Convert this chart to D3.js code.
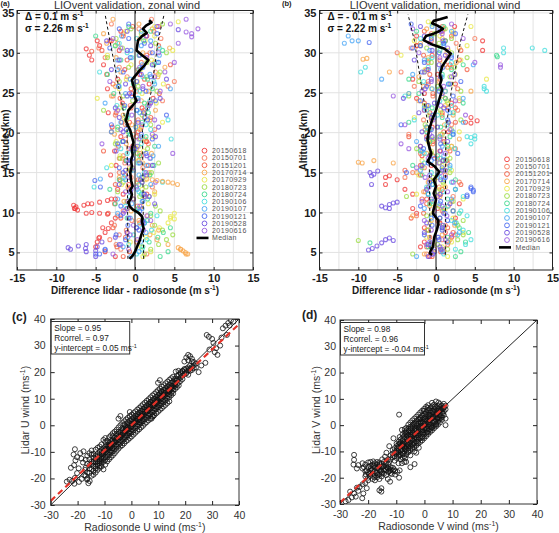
<!DOCTYPE html>
<html><head><meta charset="utf-8">
<script src="https://cdn.jsdelivr.net/npm/d3@7"></script>
<style>
html,body{margin:0;padding:0;background:#fff;}
svg{display:block;font-family:"Liberation Sans",Arial,Helvetica,sans-serif;}
</style></head><body>
<svg id="chart" width="559" height="533"></svg>
<script>
// ---------------- DATA ----------------
const dates = ["20150618","20150701","20151201","20170714","20170929","20180723","20180724","20190106","20190107","20190121","20190528","20190616"];
const dateColors = ["#f03a3a","#f7785a","#f25a3f","#f8a64a","#e8e84a","#9cdc45","#3fd98f","#45dede","#4aa6f5","#4a6af0","#6c4ee0","#9a5ce0"];

const levelsA = [4.5,5.1,5.7,6.3,6.9,7.5,8.1,8.7,9.3,9.9,10.5,11.1,11.7,12.3,12.9,13.5,14.1,14.7,15.3,15.9,16.5,17.1,17.7,18.3,18.9,19.5,20.1,20.7,21.3,21.9,22.5,23.1,23.7,24.3,24.9,25.5,26.1,26.7,27.3,27.9,28.5,29.1,29.7,30.3,30.9,31.5,32.1,32.7,33.3,33.9,34.5];
const levelsB = [4.8,5.4,6.0,6.6,7.2,7.8,8.4,9.0,9.6,10.2,10.8,11.4,12.0,12.6,13.2,13.8,14.4,15.0,15.6,16.2,16.8,17.4,18.0,18.6,19.2,19.8,20.4,21.0,21.6,22.2,22.8,23.4,24.0,24.6,25.2,25.8,26.4,27.0,27.6,28.2,28.8,29.4,30.0,30.6,31.2,31.8,32.4,33.0,33.6,34.2,34.8];

// zonal wind difference (lidar - radiosonde), one profile per date (even dates on levelsA, odd on levelsB)
const zonalDiff = [
 [-2.5,-3.8,-5.0,-4.8,-4.5,-3.8,-4.1,-3.0,-2.5,-6.2, -7.6,-6.0,-3.0,-1.5,-2.2,-0.8,-1.9,-3.1,-0.5,-2.4, -1.2,0.8,-2.6,-0.3,1.5,-1.8,0.4,-2.9,-0.7,1.2, -3.4,0.9,-1.6,2.3,-0.4,-3.5,1.8,-2.2,0.6,-1.3, -4.0,-5.5,-5.8,-2.0,-4.5,-3.0,1.5,-1.8,3.0,null,null],
 [1.5,-1.8,-2.4,-3.2,-2.0,-1.1,-2.6,-0.4,-2.2,-1.5, 0.3,-1.0,1.8,-0.6,2.2,0.9,-0.5,-2.0,1.0,-1.3, -2.0,0.6,-0.8,1.7,-1.2,-0.2,2.5,-1.2,0.4,-2.5, 1.1,-0.6,3.5,-2.8,0.2,4.2,5.0,-1.0,2.6,-2.0, 0.8,-3.8,1.9,-4.6,-2.2,3.3,-1.5,0.5,-3.0,2.1,null],
 [-1.5,-0.7,-2.3,0.2,-1.2,-1.0,-2.8,0.6,-1.8,-3.4, -1.0,-2.6,-0.2,1.5,-0.8,-2.5,0.4,-1.3,-0.6,1.7, 0.5,-1.5,-4.0,-2.1,1.4,0.2,-3.0,0.8,-1.7,2.0, -2.4,-0.5,1.8,-1.9,3.1,-0.5,-2.8,1.2,-3.6,0.4, 4.5,-1.0,1.5,-4.2,3.0,-3.2,-1.5,2.4,-0.3,null,null],
 [6.5,5.8,4.2,2.8,1.9,3.0,2.2,0.5,1.6,-0.5, 0.8,-1.4,1.2,2.5,-0.9,0.3,-2.0,1.8,-0.7,1.0, -1.6,2.1,0.2,-1.1,1.3,-2.6,0.6,-0.4,1.9,-1.5, 2.6,-1.5,0.8,-3.0,1.7,-2.5,0.3,2.9,-1.8,3.8, 2.5,-2.4,1.0,4.4,-3.6,0.6,-4.0,2.2,0.5,-2.8,null],
 [1.0,2.0,0.8,-0.6,1.4,2.4,3.1,4.2,4.5,5.0, -1.0,1.7,-0.3,2.5,0.9,-1.7,1.3,1.8,-0.8,-3.0, 0.4,-1.9,1.1,0.5,-2.4,2.3,-0.9,0.5,3.5,-1.4, 1.2,-2.0,2.7,-4.8,0.9,-2.0,3.6,-1.1,3.0,0.7, -0.5,2.1,-3.5,4.8,-2.5,1.3,2.5,-1.2,2.5,5.5,null],
 [1.2,2.0,3.0,4.0,4.8,3.5,2.5,1.5,2.0,3.2, 2.6,-1.0,0.6,-2.2,1.4,-1.5,0.8,2.1,-0.4,3.0, -1.9,0.3,1.6,-2.5,0.7,-0.6,-2.2,2.0,-1.1,0.9, -4.0,1.6,-0.3,-1.5,2.8,0.4,-2.0,1.5,3.2,-0.8, 1.5,-3.5,4.0,-1.6,2.6,-2.4,0.8,-0.5,3.5,null,null],
 [3.2,4.2,1.0,1.8,2.9,3.6,4.5,1.2,-1.0,2.0, 0.4,-2.5,1.6,0.8,-3.2,0.5,-2.0,1.9,-0.5,2.4, -1.1,0.6,-0.3,2.5,-1.6,1.4,-0.8,-2.2,0.9,-1.0, 1.7,-1.4,1.2,0.3,-2.7,2.2,-0.2,1.6,-3.5,0.5, 2.4,-1.8,0.5,3.5,-2.5,1.1,-5.0,2.0,-0.8,null,null],
 [0.2,0.9,-0.8,1.5,-0.2,2.1,0.6,1.6,2.8,0.2, -1.2,0.9,-0.7,0.5,-5.2,3.5,-1.4,1.2,-3.6,0.4, 2.0,-1.0,-1.8,0.8,4.6,-0.6,2.0,1.4,4.2,-0.9, 0.3,-2.3,1.9,-1.0,0.6,-2.0,2.4,1.0,-4.5,0.9, 2.8,-0.4,-1.0,3.1,-2.0,0.2,null,null,null,null,null],
 [-0.5,0.5,-1.5,0.7,-0.9,1.4,0.2,1.2,-0.6,-2.2, 0.9,-0.4,-2.2,1.1,0.3,2.0,-1.2,0.5,-0.2,1.5, -0.9,2.3,-0.2,3.0,-1.5,0.8,-3.0,0.1,-1.8,1.3, 0.6,1.6,-3.8,0.4,-1.2,4.5,2.5,-0.6,1.9,-2.2, 0.9,-2.2,3.1,-0.5,0.8,2.0,-1.7,0.8,null,null,null],
 [-5.0,-3.8,-2.0,-1.2,-2.4,0.5,-0.9,1.0,-1.8,0.6, -1.8,1.0,1.8,-0.6,-4.4,0.9,1.0,-1.5,-2.0,0.6, -0.3,1.4,0.0,-2.2,2.2,0.8,-1.1,-3.0,1.6,4.0, 0.2,-1.3,2.6,-0.4,1.4,-2.1,0.2,2.0,-1.5,1.0, 3.0,-0.6,2.2,-3.2,1.2,-0.8,2.8,-2.0,-0.8,null,null],
 [-5.0,-6.2,-4.8,-4.2,-2.5,-1.0,0.2,1.0,-0.8,-1.5, -1.0,2.5,-0.2,1.2,-0.5,-2.0,0.7,1.5,-1.2,2.2, -0.6,1.5,-2.4,0.3,-1.5,2.6,-1.5,3.0,0.4,-2.0, 1.1,-2.5,2.0,3.2,-0.7,1.0,-1.2,4.0,0.8,-3.0, 2.2,-2.0,0.6,-1.0,2.0,-3.6,1.4,-1.0,2.8,null,null],
 [-2.8,-0.8,-1.8,0.3,-0.6,1.1,-0.2,2.0,1.5,-1.3, 0.6,-0.9,1.3,-1.2,0.2,2.6,-0.8,1.4,-0.3,-0.8, 1.9,4.8,-0.5,-4.2,0.5,2.2,-1.8,0.9,2.5,-0.4, -2.2,1.8,0.4,-1.0,3.2,1.0,-3.2,2.5,3.8,0.6, 5.0,1.5,3.0,-1.8,5.5,-2.8,7.2,8.0,4.5,6.5,null]
];
// extra zonal points: [date index, difference, altitude]
const zonalExtra = [[0,-7.5,10.7],[0,-7.8,10.9],[0,-7.3,10.3],[0,-7.7,10.5],[0,-6.5,10.9],[0,-5.5,11.1],[0,-4.5,11.3],[0,-3.5,11.5],[0,-2.5,11.7],[0,-5.5,10.0],[0,-4.5,9.9],[0,-3.5,9.8],[0,-4.6,6.8],[0,-3.4,8.0],
 [3,1.5,14.2],[3,2.2,14.1],[3,2.8,14.0],[3,3.5,13.9],[3,4.2,13.8],[3,4.8,13.7],[3,5.4,13.5],[3,5.5,5.6],[3,5.8,5.4],[3,6.1,5.2],[3,6.4,5.0],[3,6.7,4.8],
 [10,-8.5,5.6],[10,-8.2,5.4],[10,-7.2,5.8],[10,-6.3,5.5],[10,-6.2,6.0],[10,-5.0,5.2],[9,-4.5,4.8],[9,-3.8,5.3],
 [0,-6.2,30.5],[2,-5.5,30.2],[0,-4.8,31.5],[11,6.5,32.6],[11,7.2,32.0],[10,5.5,32.9],[9,-5.1,14.0],[8,-4.4,14.2],[4,4.5,9.5],[4,5.0,9.2]];
const zonalMedian = [[-0.7,4.2],[-0.3,4.6],[0,5.1],[0.3,5.8],[0.6,6.5],[0.8,7.2],[1.1,8],[0.9,8.8],[0.9,9.5],[0.4,10],[-0.3,10.4],[-0.7,10.8],[-0.8,11.3],[-0.5,11.8],[-0.4,12.3],[-0.6,12.8],[-0.3,13.3],[-0.5,14],[-0.6,15],[-0.4,15.8],[-0.5,16.5],[-0.3,17.2],[-0.4,18],[-0.2,18.8],[-0.4,19.5],[-0.6,20.3],[-0.9,20.9],[-1.15,21.5],[-1.0,22.1],[-0.85,22.8],[-0.3,23.4],[0.2,24],[-0.1,24.6],[0,25.3],[-0.2,25.9],[-0.4,26.6],[0.1,27.2],[0.6,27.8],[1.2,28.4],[1.7,29.1],[0.9,29.7],[0.2,30.3],[0.3,31],[0.4,31.6],[0.9,32.1],[1.5,32.5],[1.0,33],[1.4,33.4],[2.1,33.8],[1.8,34.1]];
const zonalDashLeft = [[-0.9,4.2],[-1.0,20.3],[-2.0,25.3],[-3.2,31.6],[-3.8,34.8]];
const zonalDashRight = [[1.1,4.2],[0.95,20.3],[2.1,25.3],[2.95,31.6],[3.7,34.8]];

const meridDiff = [
 [-0.8,1.0,-2.0,-1.5,2.0,1.2,-1.5,0.5,2.5,-2.5, -3.0,3.0,-1.2,-3.0,-4.0,-6.5,-5.0,-2.0,0.8,-0.6, 1.4,-1.8,0.5,2.0,-0.4,-1.2,1.6,-0.5,3.8,4.5, -0.8,1.6,2.0,-2.5,-1.5,0.6,2.5,-3.0,0.2,-1.2, 1.8,3.0,-0.5,6.0,-2.5,1.2,-2.5,0.8,2.4,null,null],
 [-1.2,-0.2,1.5,0.8,2.5,-1.0,1.2,0.2,-2.5,0.8, 1.6,-0.6,2.2,-1.4,0.4,3.0,-4.0,-3.0,-1.5,1.5, 0.2,-2.0,2.5,-0.4,1.0,-3.5,-0.8,2.0,-1.6,0.8, 2.8,-1.2,3.0,-0.4,1.2,-2.8,-1.0,0.6,-4.5,2.0, -1.0,1.5,-5.0,-3.2,2.6,5.0,-0.6,1.0,null,null,null],
 [-0.5,0.6,-1.2,1.6,-0.8,2.2,1.5,0.4,-3.2,-1.6, 0.2,-1.2,-1.8,0.6,0.8,3.2,-0.8,1.2,-4.0,-2.0, 0.9,-0.4,1.8,-2.0,1.0,-3.5,1.0,-1.2,2.5,-0.6, 0.8,2.5,-1.5,1.2,-0.4,2.8,-1.0,0.5,-0.8,4.0, 1.2,0.5,-1.6,3.2,-2.5,-0.6,2.0,-1.5,0.8,null,null],
 [-1.5,0.6,-0.4,1.8,0.8,-1.2,2.4,-0.6,-3.0,1.0, -0.8,2.0,0.5,-1.6,1.2,-1.0,0.2,-2.5,1.4,-5.5, 0.5,-1.2,1.6,-0.8,3.0,0.6,-1.4,1.1,-0.6,2.2, -1.5,1.2,-2.2,0.8,4.5,-1.6,0.4,-2.2,-6.0,1.5, 2.6,-1.0,1.4,3.0,-2.0,0.8,2.2,-1.2,null,null,null],
 [1.5,-0.5,0.8,2.0,-1.2,3.5,1.0,-0.8,2.2,-0.4, 1.2,-0.5,3.5,-2.5,0.5,1.0,-0.2,-2.2,2.0,0.8, -1.8,1.5,-0.6,2.0,-1.0,0.4,3.0,-1.2,1.5,-2.8, 0.6,-1.2,1.5,3.0,-3.5,-0.6,2.0,6.5,2.5,-1.4, 0.8,3.2,-4.5,1.6,4.0,-2.8,0.5,2.2,4.5,-1.0,null],
 [-3.0,1.5,0.2,2.8,3.5,-1.0,2.8,3.5,-1.2,2.2, 0.4,2.2,-3.8,0.2,-1.0,0.9,-0.4,1.8,-1.8,0.5, 1.8,-0.6,-2.5,1.2,-0.4,0.8,2.0,-1.4,3.2,-0.8, 0.6,-1.5,1.4,-3.5,3.2,0.2,-2.2,1.8,-1.5,2.4, -0.6,4.0,2.0,-1.2,0.4,2.0,-0.2,1.2,-0.5,null,null],
 [2.5,3.2,-1.0,3.8,1.5,4.2,3.0,2.6,0.5,3.0, 1.0,-0.8,1.5,-1.0,2.5,-0.5,2.5,-1.8,0.8,-3.0, 1.2,0.2,-2.0,1.5,-0.8,1.8,-1.2,0.6,-3.5,0.8, 2.2,-0.5,3.5,1.2,-2.2,0.4,1.6,-3.5,0.8,2.0, 3.5,-1.0,7.8,0.5,-2.0,1.2,-0.6,-2.5,1.0,null,null],
 [1.0,2.5,3.8,4.5,2.8,3.5,0.8,2.0,4.0,3.2, 1.5,-0.5,3.5,0.9,-1.2,2.0,0.5,-0.6,1.8,-1.5, 0.5,-1.5,2.4,4.5,5.0,2.2,-0.8,1.4,-2.8,0.2, -1.2,2.0,0.5,-4.0,1.2,6.2,-1.6,0.8,-9.7,-1.0, 2.0,-0.5,8.7,12.4,1.0,-2.0,null,null,null,null,null],
 [-2.5,0.8,-0.5,1.5,0.2,3.0,0.8,2.4,-0.6,1.2, -1.5,0.5,2.0,-1.0,2.5,-0.4,1.0,0.2,-2.0,1.8, -0.6,1.0,-1.8,0.8,-2.5,0.5,2.2,-1.2,3.5,-0.2, 1.8,-1.5,0.2,3.5,-3.5,-0.5,1.6,-7.0,-3.0,0.6, 4.8,-1.5,2.0,-0.8,1.0,-10.8,-11.3,2.0,-0.5,null,null],
 [-0.4,0.6,-1.0,0.4,-1.5,0.8,-0.5,1.5,-0.2,2.2, -2.0,0.6,4.0,4.8,4.5,-0.8,1.2,-3.8,0.8,-1.0, -0.2,2.8,-1.6,0.6,-1.2,2.2,-0.6,-4.5,1.5,-0.4, 1.5,-1.0,-2.0,2.2,0.4,-1.2,3.2,0.6,-1.8,0.9, -1.5,2.0,0.4,-3.0,1.0,-0.6,2.5,0.5,-3.2,null,null],
 [-1.0,-0.2,0.5,-0.8,0.3,-1.5,0.8,-1.2,0.5,1.0, -6.0,1.8,-0.6,0.5,-1.2,-8.3,0.6,-0.8,1.2,-1.8, 0.9,-0.8,0.6,-2.0,1.5,-0.5,-1.8,0.2,1.6,-0.6, -2.2,1.0,-0.2,-4.2,0.8,-1.4,1.8,-0.6,2.4,-1.0, 0.4,-2.8,1.2,-0.5,-2.0,0.9,-1.5,0.6,-2.0,null,null],
 [-0.5,0.8,-1.2,1.2,2.0,-0.6,0.9,-1.5,1.4,-0.2, 0.8,-1.8,0.2,1.5,-0.9,2.2,-1.4,0.6,-2.5,0.4, -1.0,1.2,-3.5,-4.5,0.5,-0.8,1.8,-4.0,-0.4,3.8, -1.5,0.6,2.5,-5.5,-1.8,1.0,-0.6,2.0,-1.5,8.3, 5.0,0.5,-2.2,1.5,-0.8,3.5,0.8,-3.0,2.0,null,null]
];
const meridExtra = [[10,-8.7,5.3],[10,-8.2,5.5],[10,-7.6,5.8],[10,-7.0,6.2],[10,-6.5,6.6],[10,-6.0,6.8],[10,-5.5,6.5],
 [10,-7.0,10.8],[10,-6.5,10.6],[10,-6.0,11.0],[10,-5.5,11.2],[10,-5.0,11.3],[10,-8.5,15.0],[10,-8.3,14.6],[10,-8.0,14.8],[10,-7.5,15.2],
 [0,-6.5,14.4],[0,-6.0,14.6],[3,-10.0,16.3],[3,-9.5,16.2],[3,-8.0,16.5],[5,-10.0,6.5],[6,-8.5,6.2],
 [8,-11.8,31.2],[8,-10.0,31.5],[9,-8.6,31.3],[3,-9.4,29.2],[3,-8.9,29.3],[7,-9.1,28.2],[7,14.0,30.3],[7,8.7,30.6],[6,7.9,29.5],[11,8.3,28.5],
 [0,6.0,31.5],[0,5.3,21.5],[0,4.5,21.2],[7,4.0,19.5],[7,4.5,19.4],[7,5.0,19.6],[7,6.2,25.5],[7,6.5,25.2],[9,4.5,13.0],[9,4.8,12.8],[9,4.0,12.2]];
const meridMedian = [[-0.5,4.7],[-0.8,4.9],[-0.7,5.2],[-0.4,5.7],[-0.3,6.4],[-0.2,7],[0.1,7.8],[0.3,8.5],[0.3,9],[-0.1,9.5],[-0.4,9.9],[-0.3,10.4],[-0.2,10.8],[0,11.6],[-0.3,12.4],[0,13.3],[-0.3,14.1],[0.1,14.6],[0.4,15.1],[-0.2,15.8],[-1.1,16.4],[-0.8,16.9],[-0.6,17.4],[-0.8,18],[-1.0,18.7],[-1.1,19.2],[-0.9,20.3],[-0.5,21.6],[0,22.8],[0.4,24.1],[0.8,25.4],[0.5,26],[0.7,26.6],[0.5,27.3],[0.8,28.3],[1.4,29.2],[1.9,29.9],[1.1,30.5],[-0.4,31],[-1.6,31.6],[-1.3,32.1],[-0.3,32.4],[0.4,32.7],[0.9,33],[0.2,33.4],[-0.5,33.7],[-0.3,34],[0.5,34.2],[1.5,34.5]];
const meridDashLeft = [[-0.75,4.7],[-0.9,20.3],[-1.8,25.4],[-2.8,31.6],[-3.6,34.8]];
const meridDashRight = [[1.2,4.7],[1.25,20.3],[2.0,25.4],[3.2,31.6],[4.1,34.8]];

const profXTicks = [-15,-10,-5,0,5,10,15];
const profYTicks = [5,10,15,20,25,30,35];
const profXGrid = [-12.5,-10,-7.5,-5,-2.5,2.5,5,7.5,10,12.5];

// scatter panels: rows of [radiosonde value, [lidar values]]
const uRows = [
 [-17,[-16,-13,-19]],[-16.4,[-14.5,-17.8,-11.5,-20]],[-15.6,[-15,-12.8,-18,-16.2,-10.5]],[-14.8,[-13.6,-16.5,-11,-19,-14.5,-9.5]],
 [-14.1,[-12.2,-15.3,-17.2,-13.5,-10.8,-18.6]],[-13.3,[-11.5,-14,-16.3,-12.7,-9.2,-15.5,-17.8]],[-12.6,[-10.8,-13.5,-15.2,-11.9,-14.6,-8.5,-16.8]],
 [-11.8,[-10,-12.8,-14.2,-11.2,-13.5,-8,-16,-15.3]],[-11.1,[-9.3,-11.9,-13.2,-10.4,-12.6,-7.2,-15.5,-14.4]],[-10.4,[-8.7,-11,-12.4,-9.8,-13.7,-5.5,-16.6,-10.5]],
 [-9.7,[-7.9,-10.2,-11.8,-9,-12.9,-6.3,-14.8,-4.8]],[-9,[-7.4,-9.5,-10.8,-8.2,-12,-5.8,-13.6,-8.8]],[-8.3,[-6.6,-8.7,-10.1,-7.6,-11.2,-4.5,-12.8,-8]],
 [-7.6,[-6,-8,-9.5,-7,-10.4,-3.8,-12,-7.4]],[-6.9,[-5.4,-7.2,-8.6,-6.3,-9.8,-3,-11.3,-4.2]],[-6.2,[-4.6,-6.5,-7.8,-5.7,-9,-2.4,-10.5,-6]],
 [-5.5,[-4,-5.8,-7.2,-5,-8.2,-1.7,-9.6,-3.2]],[-4.8,[-3.3,-5.1,-6.3,-4.4,-7.4,-0.8,-8.8,-2.5,2.5]],[-4.1,[-2.6,-4.4,-5.6,-3.7,-6.8,0,-8,3.5]],
 [-3.4,[-2,-3.6,-5,-3,-6,0.8,-7.5,-1.2]],[-2.7,[-1.3,-2.9,-4.4,-2.3,-5.3,1.5,-6.8,0.2]],[-2,[-0.6,-2.2,-3.6,-1.5,-4.6,2.2,-6,-1]],
 [-1.3,[0,-1.6,-2.9,-0.8,-3.8,2.8,-5.5,1.2]],[-0.6,[0.6,-0.9,-2.2,-0.2,-3.2,3.5,-4.8,1.8,5]],[0.1,[1.2,-0.3,-1.5,0.5,-2.6,4,-4.2,2.3]],
 [0.8,[1.8,0.4,-0.8,1.1,-1.9,4.6,-3.5,3]],[1.5,[2.5,1,-0.2,1.8,-1.2,5.2,-2.8,3.6]],[2.2,[3.1,1.7,0.5,2.4,-0.5,5.9,-2.1,4.2]],
 [2.9,[3.8,2.3,1.2,3.1,0.2,6.5,-1.5,4.8]],[3.6,[4.4,3,1.8,3.7,0.9,7.2,-0.8,5.5]],[4.3,[5.1,3.6,2.5,4.4,1.5,7.9,-0.2,6.1]],
 [5,[5.7,4.3,3.2,5.1,2.2,8.5,0.6,6.8]],[5.7,[6.4,5,3.9,5.8,2.8,9.2,1.2,7.4]],[6.4,[7,5.6,4.5,6.4,3.5,9.8,1.9,8.1]],
 [7.1,[7.7,6.3,5.2,7.1,4.1,10.5,2.5,8.7]],[7.8,[8.3,7,5.8,7.7,4.8,11.2,3.2,9.4]],[8.5,[9,7.6,6.5,8.4,5.4,11.8,3.8,10]],
 [9.2,[9.6,8.3,7.1,9.1,6.1,12.5,4.5,10.7]],[9.9,[10.3,8.9,7.8,9.7,6.7,13.2,5.1,11.3,16]],[10.6,[10.9,9.6,8.4,10.4,7.4,13.8,5.8,12,17]],
 [11.3,[11.6,10.2,9.1,11,8,14.5,6.4,12.6]],[12,[12.2,10.9,9.7,11.7,8.7,15.1,7.1,13.3]],[12.7,[12.9,11.5,10.4,12.3,9.3,15.8,7.7,13.9]],
 [13.4,[13.5,12.2,11,13,10,16.4,8.4,14.6]],[14.1,[14.2,12.8,11.7,13.6,10.6,17.1,9,15.2]],[14.8,[14.8,13.5,12.3,14.3,11.3,17.7,16]],
 [15.5,[15.5,14.1,13,14.9,12,18.3,16.5]],[16.2,[16.1,14.8,13.6,15.6,17.5]],[16.9,[16.8,15.4,14.3,18.5,17.3]],[17.6,[17.4,16.1,19,15]],
 [18.3,[18,16.7,20,19.5]],[19,[18.7,20.5,17.4,20.3]],[19.7,[19.3,20.8,21.2,24]],[20.4,[20,21.3,19.5,25.5]],[21.1,[20.6,21.8,19,24.5,26.5]],
 [21.8,[21.3,20.5,26,22.5]],[22.5,[21.9,20.8,25,24]],[23.2,[22.6,21.5,23.8]],[24,[23.2,21.8]]
];
const uExtra = [[16.5,20.2],[17.5,20.5],[25,20],[26,22.5],[27.5,23.5],[29,28.5],[28,34],[28.8,33.3],[30,32.5],[31,27.5],[32,26.5],[31.5,29],[33,30],[30.5,31],[34,36.5],[35,37.5],[36,38.5],[37,39.5],[36.5,37.5],[38,39],[35.5,34],[33.5,33],
 [-21,-9],[-21.5,-11],[-20.2,-12],[-20.8,-13.2],[-21.3,-15],[-19.6,-16.2],[-20.2,-18],[-21,-19.8],[-22,-21],[-23,-20.5],[-24,-21.2],[-21.2,-22],[-19.5,-21.3],[-18.5,-20.2],[-17.5,-18.8],[-16.5,-20.4],[-16,-21.8],[-15.5,-21],[-17.2,-16.8],[-18,-14],[-18.6,-12.5],[-19,-10.5],[-22.5,-16],[-17.8,-9.8],[8.1,3.4],[7.5,2.5],
 [-12,-12.2],[-8,-8.3],[-4,-4.5],[0,-0.6],[4,3.6],[8,7.4],[12,11.6],[-10,-9.5],[-6,-6.2],[-2,-1.6],[2,2.4],[6,5.4],[10,9.8],[14,13.2],[-14,-13.8],[-1,-2.6],[3,1.3],[7,8.8],[11,12.8],[-7,-8.6],[-11,-10.9]];
const vRows = [
 [-12,[-11.5,-13]],[-11.3,[-10.8,-12.2,-9.5]],[-10.6,[-10.3,-11.8,-8.8,-13.5]],[-9.9,[-9.6,-11,-8,-12.5,-7]],[-9.2,[-9,-10.5,-7.5,-12,-6.3,-14.5]],
 [-8.5,[-8.3,-9.8,-6.8,-11.2,-5.5,-13]],[-7.8,[-7.6,-9.2,-6,-10.6,-4.8,-12.3,-3.5]],[-7.1,[-7,-8.6,-5.4,-10,-4,-11.8,-2.8,-14]],
 [-6.4,[-6.3,-8,-4.8,-9.4,-3.4,-11,-2,-1]],[-5.7,[-5.6,-7.3,-4.1,-8.8,-2.8,-10.3,-1.3,0.2]],[-5,[-5,-6.6,-3.5,-8,-2,-9.5,-0.7,1,-11.5]],
 [-4.3,[-4.3,-6,-2.8,-7.5,-1.3,-9,0,1.8]],[-3.6,[-3.6,-5.3,-2.1,-6.8,-0.7,-8.3,0.8,2.5]],[-2.9,[-3,-4.7,-1.5,-6.2,0,-7.8,1.5,3.2,-10.5]],
 [-2.2,[-2.3,-4,-0.8,-5.6,0.7,-7,2.2,4]],[-1.5,[-1.6,-3.3,-0.1,-5,1.4,-6.4,2.9,4.8]],[-0.8,[-0.9,-2.6,0.6,-4.3,2.1,-5.8,3.6,5.5]],
 [-0.1,[-0.2,-1.9,1.3,-3.6,2.8,-5,4.3,6.2]],[0.6,[0.5,-1.2,2,-2.9,3.4,-4.2,5,7]],[1.3,[1.2,-0.5,2.7,-2.2,4.1,-3.4,5.7,7.6]],
 [2,[1.9,0.2,3.4,-1.5,4.8,-2.6,6.4]],[2.7,[2.6,0.9,4.1,-0.8,5.5,-2,7.2,8.5]],[3.4,[3.3,1.6,4.8,-0.1,6.1,-1.2,7.8]],
 [4.1,[4,2.3,5.5,0.6,6.8,-0.5,9]],[4.8,[4.7,3,6.2,1.4,7.4,0.2]],[5.5,[5.4,3.8,6.8,2.2,8,1]],[6.2,[6.1,4.6,7.4,3,2]],
 [6.9,[6.8,5.3,8.1,3.8]],[7.5,[7.4,6,2.5,0]],
 [-22,[-16.5,-14.5]],[-21,[-17.5,-15,-19.5]],[-20,[-18,-16,-14.2,-20]],[-19.2,[-17.5,-15.5,-19.3,-14]],[-18.4,[-16.8,-18.5,-15,-20.5]],
 [-17.6,[-17.5,-16,-19,-14.5,-21]],[-16.8,[-16.5,-18.2,-15,-19.8,-14]],[-16,[-17,-15.6,-18.8,-14.2,-20.5]],[-15.2,[-16.2,-17.8,-14.8,-19.5]],
 [-14.4,[-15.5,-17.2,-14,-18.5]],[-13.6,[-15.8,-17,-14.5,-19]],[-12.8,[-16.5,-17.8,-15]],[-12,[-17,-16,-18.2]],[-11.2,[-17.3,-16.2]],
 [-10.4,[-17.5,-18.8]],[-9.6,[-17.8]],[-8.8,[-17.2]]
];
const vExtra = [[-8,-14.5],[-6.5,-14],[-5,-16],[-3.5,-14.8],[-9,4],[-7,-1.5],[-12.5,-8],[-11,-5],[-14,-12],[-13,-13],[-12.5,-14],[-15,-13],[-13.5,-10.5],
 [-26.4,-25.3],[-24.4,-27.2],[-27,-28.5],[-21.7,-26],[-20.5,-24],[-22.1,-27.8],[-25,-26],[-23.5,-25],[-25.8,-27.5],[-23,-23.5],[-22,-22.5],[-24,-23.8],[-28,-29],[-21,-22],[-20,-21],
 [-25,-11.3],[-25,-13.2],[-25.2,-15],[-24,-16.5],[-15.3,-24],[-15.3,-25.3],[-16,-24.8],[-12.2,-21.5],[-23.5,-15.2],[-9,-20],[-13,-20.5],
 [-8,-7.4],[-6,-5.2],[-4,-3.1],[-2,-1.4],[0,0.4],[2,2.6],[4,3.5],[-7,-8.2],[-5,-4.1],[-3,-2.2],[-1,-0.3],[1,1.6],[3,3.1],[5,5.6],[-9.5,-10],[-6,-7.5],[-3.5,-4.5],[-1,-2],[1.5,0.5],[-4.5,-5.5],[-2.5,-3.3],[0.2,-0.8],[-5.5,-2],[-3.8,0.5],[-1.8,2.2],
 [-9.5,-8.5],[-8.8,-7],[-8.2,-9.6],[-7.4,-6.5],[-6.8,-9],[-6,-4],[-5.3,-6.8],[-4.6,-3.8],[-4,-7.5],[-3.2,-1.5],[-2.6,-5],[-1.9,-2.8],[-1.2,1],[-0.5,-3.2],[0.3,2.4],[0.9,-1.6],[1.7,3.6],[2.4,-0.3],[3,5.2],[3.8,1.2],[4.4,4.4],[5.2,2.6],[5.9,5.8],[6.6,4.4],
 [-7.5,-11],[-5.8,-9.8],[-4.2,-8.6],[-2.4,-6.4],[-0.6,-4.6],[1,-2.8],[2.6,-1],[4.2,0.2],[-8.8,-4.5],[-6.6,-2.8],[-4.8,-1.2],[-3,0.6],[-1.4,2.6],[0.4,4.2],[2,5.6],[3.6,7],
 [-10,-10.5],[-9,-11.5],[-7.8,-8],[-6.2,-7],[-4.4,-5.2],[-2.8,-3.8],[-1.6,-0.6],[0,-1.2],[1.8,0.8],[3.2,2.8],[4.6,2.6],[5.8,3.4],[6.8,6.4],[-3.6,-10],[-2,-8.6],[-6.8,-12.6],[5,8.6],[1.2,6.6],[-0.2,5.4],[-8,-1.8],
 [-21.5,-16],[-20.5,-17.2],[-19.6,-18.6],[-18.8,-17.2],[-18,-15.6],[-17.2,-18.2],[-16.4,-16.2],[-15.6,-17.4],[-14.8,-15.8],[-14,-16.6],[-13.2,-16.2],[-12.4,-17.4],[-19,-16.4],[-17.8,-19.8],[-16.6,-19],[-15,-18.4],[-20.8,-18.8],[-18.2,-13.8],[-16,-14.8],[-11.6,-18.6],[-10.8,-16.8]];

const scatTicks = [-30,-20,-10,0,10,20,30,40];
const uStats = [0.95, 0.97, 0.05];   // slope, Rcorrel, y-intercept
const vStats = [0.98, 0.96, -0.04];
const uFitRange = [-30, 40];
const vFitRange = [-30, 8];

// ---------------- DRAWING ----------------
const svg = d3.select("#chart");
svg.append("rect").attr("width",559).attr("height",533).attr("fill","#fff");
const tickFmt = d => String(d);

function rich(sel, parts, supSize, shift) {
  let up = false;
  parts.forEach(p => {
    const isSup = typeof p !== "string";
    const t = sel.append("tspan").text(isSup ? p.s : p);
    if (isSup) { t.attr("font-size", supSize); if (!up) { t.attr("dy", -shift); up = true; } }
    else if (up) { t.attr("dy", shift); up = false; }
  });
  return sel;
}

function styleAxis(g, size, weight, color) {
  g.select(".domain").remove();
  g.selectAll("line").attr("stroke", "#222");
  g.selectAll("text").attr("font-family", null).attr("font-size", size).attr("font-weight", weight).attr("fill", color);
  g.attr("font-family", null).attr("font-size", null);
}

function profilePanel(o) {
  const y0 = 270, y1 = 10.5;
  const x = d3.scaleLinear().domain([-15, 15]).range(o.xr);
  const y = d3.scaleLinear().domain([2.8, 35.3]).range([y0, y1]);
  const [x0, x1] = o.xr;
  const g = svg.append("g");
  svg.append("clipPath").attr("id", "clip" + o.id).append("rect")
    .attr("x", x0).attr("y", y1).attr("width", x1 - x0).attr("height", y0 - y1);
  g.append("g").selectAll("line").data(profXGrid).join("line")
    .attr("x1", d => x(d)).attr("x2", d => x(d)).attr("y1", y0).attr("y2", y1)
    .attr("stroke", "#e2e2e2").attr("stroke-width", 1);
  g.append("g").selectAll("line").data(profYTicks).join("line")
    .attr("y1", d => y(d)).attr("y2", d => y(d)).attr("x1", x0).attr("x2", x1)
    .attr("stroke", "#e2e2e2").attr("stroke-width", 1);

  const pts = g.append("g").attr("clip-path", `url(#clip${o.id})`);
  o.diffs.forEach((arr, i) => {
    const lv = i % 2 === 0 ? levelsA : levelsB;
    const data = arr.map((v, j) => [v, lv[j]]).filter(d => d[0] !== null);
    pts.append("g").selectAll("circle").data(data).join("circle")
      .attr("cx", d => x(d[0])).attr("cy", d => y(d[1])).attr("r", 2)
      .attr("fill", "none").attr("stroke", dateColors[i]).attr("stroke-width", 1.1).attr("stroke-opacity", 0.75);
  });
  pts.append("g").selectAll("circle").data(o.extra).join("circle")
    .attr("cx", d => x(d[1])).attr("cy", d => y(d[2])).attr("r", 2)
    .attr("fill", "none").attr("stroke", d => dateColors[d[0]]).attr("stroke-width", 1.1).attr("stroke-opacity", 0.75);

  g.append("line").attr("x1", x(0)).attr("x2", x(0)).attr("y1", y0).attr("y2", y1).attr("stroke", "#111").attr("stroke-width", 1);
  const ln = d3.line().x(d => x(d[0])).y(d => y(d[1]));
  [o.dashL, o.dashR].forEach(dl => g.append("path").attr("d", ln(dl)).attr("fill", "none")
    .attr("stroke", "#111").attr("stroke-width", 1).attr("stroke-dasharray", "3,2.5"));
  g.append("path").attr("d", ln(o.median)).attr("fill", "none").attr("stroke", "#000")
    .attr("stroke-width", 2.6).attr("stroke-linejoin", "round");

  g.append("rect").attr("x", x0).attr("y", y1).attr("width", x1 - x0).attr("height", y0 - y1)
    .attr("fill", "none").attr("stroke", "#222").attr("stroke-width", 1);

  g.append("g").attr("transform", `translate(0,${y0})`)
    .call(d3.axisBottom(x).tickValues(profXTicks).tickSize(-3).tickPadding(4).tickFormat(tickFmt))
    .call(a => styleAxis(a, 11, "bold", "#1a1a1a"));
  g.append("g").attr("transform", `translate(0,${y1})`)
    .call(d3.axisTop(x).tickValues(profXTicks).tickSize(-3).tickFormat(""))
    .call(a => styleAxis(a, 11, "bold", "#1a1a1a"));
  g.append("g").attr("transform", `translate(${x0},0)`)
    .call(d3.axisLeft(y).tickValues(profYTicks).tickSize(-3).tickPadding(o.ypad).tickFormat(tickFmt))
    .call(a => styleAxis(a, 11, "bold", "#1a1a1a"));
  g.append("g").attr("transform", `translate(${x1},0)`)
    .call(d3.axisRight(y).tickValues(profYTicks).tickSize(-3).tickFormat(""))
    .call(a => styleAxis(a, 11, "bold", "#1a1a1a"));

  // titles
  g.append("text").attr("x", o.titleX).attr("y", 8.5).attr("text-anchor", "middle")
    .attr("font-size", 11).attr("fill", "#333").text(o.title);
  rich(g.append("text").attr("x", (x0 + x1) / 2).attr("y", 293.5).attr("text-anchor", "middle")
    .attr("font-size", 10).attr("font-weight", "bold").attr("fill", "#1a1a1a"),
    ["Difference lidar - radiosonde (m s", {s: "-1"}, ")"], 6.5, 4);
  g.append("text").attr("transform", `translate(${o.ytX},140) rotate(-90)`).attr("text-anchor", "middle")
    .attr("font-size", 10).attr("font-weight", "bold").attr("fill", "#1a1a1a").attr("dy", "0.35em").text("Altitude (km)");
  rich(g.append("text").attr("x", x0 + 8).attr("y", 20).attr("font-size", 10).attr("font-weight", "bold").attr("fill", "#111"),
    [o.delta, {s: "-1"}], 6.5, 4);
  rich(g.append("text").attr("x", x0 + 8).attr("y", 31.5).attr("font-size", 10).attr("font-weight", "bold").attr("fill", "#111"),
    [o.sigma, {s: "-1"}], 6.5, 4);
  g.append("text").attr("x", o.labX).attr("y", 5.6)
    .attr("font-size", 7.5).attr("font-weight", "bold").attr("fill", "#222").text(o.label);

  // legend
  const L = o.legend;
  const lg = g.append("g");
  dates.forEach((d, i) => {
    lg.append("circle").attr("cx", L.cx).attr("cy", L.y + i * L.step).attr("r", 2.4)
      .attr("fill", "none").attr("stroke", dateColors[i]).attr("stroke-width", 0.9);
    lg.append("text").attr("x", L.tx).attr("y", L.y + i * L.step).attr("dy", "0.35em")
      .attr("font-size", 7).attr("letter-spacing", 0.45).attr("fill", "#555").text(d);
  });
  const my = L.y + 12 * L.step;
  lg.append("line").attr("x1", L.cx - 8).attr("x2", L.cx + 4).attr("y1", my).attr("y2", my)
    .attr("stroke", "#000").attr("stroke-width", 2.6);
  lg.append("text").attr("x", L.tx).attr("y", my).attr("dy", "0.35em").attr("font-size", 7)
    .attr("letter-spacing", 0.3).attr("fill", "#555").text("Median");
}

profilePanel({id: "a", xr: [17, 253], diffs: zonalDiff, extra: zonalExtra, median: zonalMedian,
  dashL: zonalDashLeft, dashR: zonalDashRight, ypad: 2.5, title: "LIOvent validation, zonal wind", titleX: 127,
  delta: "Δ = 0.1 m s", sigma: "σ = 2.26 m s", label: "(a)", labX: 0.5, ytX: 5.8,
  legend: {cx: 204.5, tx: 212, y: 150.7, step: 7.27}});
profilePanel({id: "b", xr: [319.5, 552.5], diffs: meridDiff, extra: meridExtra, median: meridMedian,
  dashL: meridDashLeft, dashR: meridDashRight, ypad: 3, title: "LIOvent validation, meridional wind", titleX: 435,
  delta: "Δ = - 0.1 m s", sigma: "σ = 2.22 m s", label: "(b)", labX: 282, ytX: 303,
  legend: {cx: 507, tx: 515.5, y: 159.3, step: 7.34}});

function scatterPanel(o) {
  const x = d3.scaleLinear().domain([-30, 40]).range(o.xr);
  const y = d3.scaleLinear().domain([-30, 40]).range(o.yr);
  const [x0, x1] = o.xr, [yb, yt] = o.yr;
  const g = svg.append("g");
  svg.append("clipPath").attr("id", "clip" + o.id).append("rect")
    .attr("x", x0).attr("y", yt).attr("width", x1 - x0).attr("height", yb - yt);
  const data = [];
  o.rows.forEach(r => r[1].forEach(v => data.push([r[0], v])));
  o.extra.forEach(p => data.push(p));
  g.append("g").attr("clip-path", `url(#clip${o.id})`).selectAll("circle").data(data).join("circle")
    .attr("cx", d => x(d[0])).attr("cy", d => y(d[1])).attr("r", 2.5)
    .attr("fill", "none").attr("stroke", "#111").attr("stroke-width", 0.8);
  g.append("line").attr("x1", x(-30)).attr("y1", y(-30)).attr("x2", x(40)).attr("y2", y(40))
    .attr("stroke", "#222").attr("stroke-width", 1);
  const fit = o.fitRange.map(v => [v, o.stats[0] * v + o.stats[2]]);
  g.append("path").attr("d", d3.line().x(d => x(d[0])).y(d => y(d[1]))(fit))
    .attr("fill", "none").attr("stroke", "#e53228").attr("stroke-width", 2.2).attr("stroke-dasharray", "6,4");
  g.append("rect").attr("x", x0).attr("y", yt).attr("width", x1 - x0).attr("height", yb - yt)
    .attr("fill", "none").attr("stroke", "#333").attr("stroke-width", 1);

  g.append("g").attr("transform", `translate(0,${yb})`)
    .call(d3.axisBottom(x).tickValues(scatTicks).tickSize(-4).tickPadding(7).tickFormat(tickFmt))
    .call(a => styleAxis(a, 10.5, "normal", "#333"));
  g.append("g").attr("transform", `translate(0,${yt})`)
    .call(d3.axisTop(x).tickValues(scatTicks).tickSize(-4).tickFormat(""))
    .call(a => styleAxis(a, 10.5, "normal", "#333"));
  g.append("g").attr("transform", `translate(${x0},0)`)
    .call(d3.axisLeft(y).tickValues(scatTicks).tickSize(-4).tickPadding(o.ypad).tickFormat(tickFmt))
    .call(a => styleAxis(a, 10.5, "normal", "#333"));
  g.append("g").attr("transform", `translate(${x1},0)`)
    .call(d3.axisRight(y).tickValues(scatTicks).tickSize(-4).tickFormat(""))
    .call(a => styleAxis(a, 10.5, "normal", "#333"));

  // stats box
  g.append("rect").attr("x", x0 + 0.5).attr("y", yt + 2.5).attr("width", o.boxW).attr("height", 32.5)
    .attr("fill", "#fff").attr("stroke", "#333").attr("stroke-width", 1);
  const fmt2 = v => v.toFixed(2);
  const lines = [["Slope = " + fmt2(o.stats[0])], ["Rcorrel. = " + fmt2(o.stats[1])],
    ["y-intercept = " + fmt2(o.stats[2]) + " ms", {s: "-1"}]];
  lines.forEach((parts, i) => rich(g.append("text").attr("x", x0 + 3.5).attr("y", yt + 12.3 + i * 9.7)
    .attr("font-size", 8.3).attr("fill", "#222"), parts, 5.5, 3));

  rich(g.append("text").attr("x", (x0 + x1) / 2).attr("y", o.xtY).attr("text-anchor", "middle")
    .attr("font-size", 10.5).attr("fill", "#333"), [o.xTitle, {s: "-1"}, ")"], 7, 4);
  rich(g.append("text").attr("transform", `translate(${o.ytX},410) rotate(-90)`).attr("text-anchor", "middle")
    .attr("dy", "0.35em").attr("font-size", 10.5).attr("fill", "#333"), [o.yTitle, {s: "-1"}, ")"], 7, 4);
  g.append("text").attr("x", o.labX).attr("y", o.labY).attr("font-size", 12).attr("font-weight", "bold")
    .attr("fill", "#222").text(o.label);
}

scatterPanel({id: "c", xr: [50.7, 239], yr: [505, 319], rows: uRows, extra: uExtra, stats: uStats, fitRange: uFitRange,
  ypad: 5, boxW: 78.5, xTitle: "Radiosonde U wind (ms", yTitle: "Lidar U wind (ms", xtY: 530.5, ytX: 25,
  label: "(c)", labX: 12, labY: 320.5});
scatterPanel({id: "d", xr: [340, 537], yr: [504, 320], rows: vRows, extra: vExtra, stats: vStats, fitRange: vFitRange,
  ypad: 4, boxW: 84, xTitle: "Radiosonde V wind (ms", yTitle: "Lidar V wind (ms", xtY: 530, ytX: 316,
  label: "(d)", labX: 302, labY: 319});
</script>
</body></html>
